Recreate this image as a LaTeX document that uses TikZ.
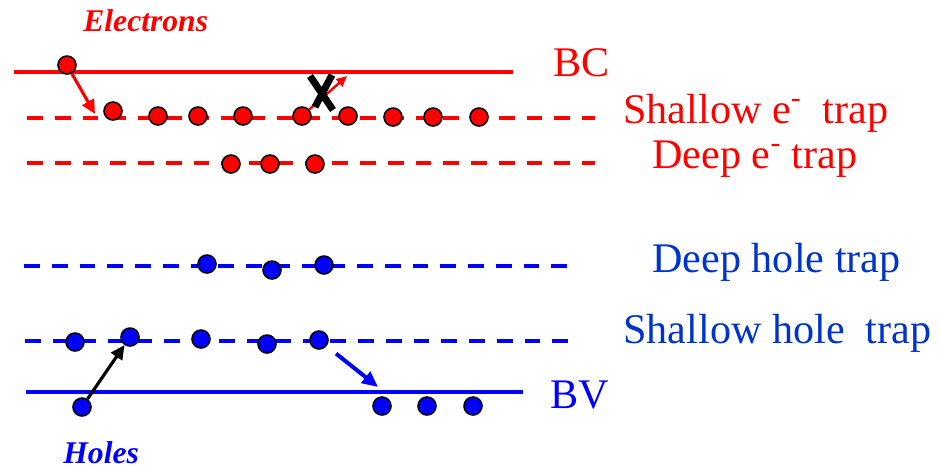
\documentclass[tikz,border=0pt]{standalone}
\usepackage{fontspec}
\setmainfont{Liberation Serif}
\usepackage{xcolor}
\usepackage{tikz}
\usetikzlibrary{arrows.meta,positioning,calc}

\definecolor{labblue}{RGB}{0,51,204}

\begin{document}
\begin{tikzpicture}[
  x=0.02cm, y=-0.02cm,
  band/.style={line width=1.8pt, #1},
  trap/.style={line width=2pt, dash pattern=on 9pt off 6.8pt, #1},
  dot/.style={circle, draw=black, line width=0.9pt, fill=#1,
              minimum size=0.36cm, inner sep=0pt},
  lab/.style={text=#1, font=\fontsize{24}{28}\selectfont, inner sep=0pt, anchor=base west},
  carrier/.style={text=#1, font=\fontsize{18}{22}\selectfont\bfseries\itshape,
                  inner sep=0pt, anchor=base west},
  arr/.style={-{Triangle[length=8pt, width=7.5pt]}, line width=1.8pt, #1}
]
  \useasboundingbox (0,0) rectangle (941,468);

  % Bands and trap levels
  \draw[band=red] (14,72) -- (513,72);
  \draw[trap=red] (27,118) -- (595,118);
  \draw[trap=red] (27,163) -- (595,163);
  \draw[trap=blue] (24,266) -- (575,266);
  \draw[trap=blue] (25,341) -- (575,341);
  \draw[band=blue] (26,392) -- (523,392);

  % Electrons
  \node[dot=red] (e0) at (67,65) {};
  \node[dot=red] (s1) at (113,111) {};
  \node[dot=red] (s2) at (158,116) {};
  \node[dot=red] (s3) at (198,116) {};
  \node[dot=red] (s4) at (243,116) {};
  \node[dot=red] (s5) at (302,116) {};
  \node[dot=red] (s6) at (348,116) {};
  \node[dot=red] (s7) at (393,117) {};
  \node[dot=red] (s8) at (433,117) {};
  \node[dot=red] (s9) at (479,117) {};
  \node[dot=red] (d1) at (231,164) {};
  \node[dot=red] (d2) at (270,164) {};
  \node[dot=red] (d3) at (315,164) {};

  % Holes
  \node[dot=blue] (dh1) at (207,264) {};
  \node[dot=blue] (dh2) at (272,270) {};
  \node[dot=blue] (dh3) at (324,265) {};
  \node[dot=blue] (sh1) at (75,342) {};
  \node[dot=blue] (sh2) at (130,337) {};
  \node[dot=blue] (sh3) at (201,339) {};
  \node[dot=blue] (sh4) at (267,344) {};
  \node[dot=blue] (sh5) at (319,340) {};
  \node[dot=blue] (v1) at (382,406) {};
  \node[dot=blue] (v2) at (427,406) {};
  \node[dot=blue] (v3) at (473,406) {};
  \node[dot=blue] (h0) at (82,407) {};

  % Transitions
  \coordinate (capt) at (95,114);
  \coordinate (esc) at (347,76);
  \coordinate (rel) at (378,387);
  \draw[arr=red] (e0) -- (capt);
  \draw[arr=red, line width=1.4pt, -{Triangle[length=6pt, width=5.5pt]}] (s5) -- (esc);
  \draw[arr=black] (h0) -- (sh2);
  \draw[arr=blue, line width=2.3pt, -{Triangle[length=9pt, width=8pt]}, shorten <=0.24cm] (sh5) -- (rel);

  % blocked escape
  \draw[line width=4pt, black] (310,76) -- (333,110) (332,75) -- (315,107);

  % Labels
  \node[carrier=red] (lel) at (83,31) {Electrons};
  \node[carrier=blue] (lho) at (63,463) {Holes};
  \node[lab=red] (lbc) at (553,76) {BC};
  \node[lab=red] (lse) at (623,123) {Shallow e\textsuperscript{-}\ \ trap};
  \node[lab=red] (lde) at (652,168) {Deep e\textsuperscript{-} trap};
  \node[lab=labblue] (ldh) at (652,272) {Deep hole trap};
  \node[lab=labblue] (lsh) at (623,343) {Shallow hole\ \ trap};
  \node[lab=blue] (lbv) at (550,408) {BV};
\end{tikzpicture}
\end{document}
